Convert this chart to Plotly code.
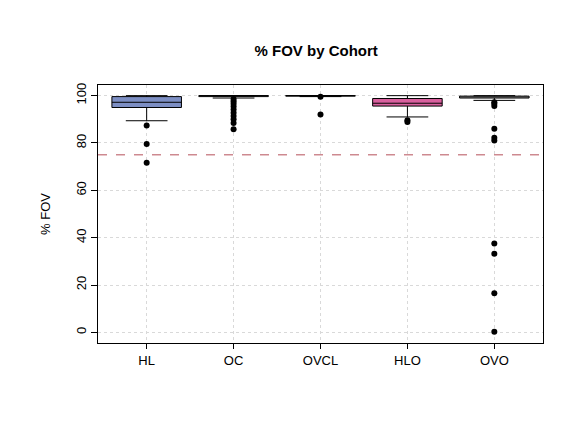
import plotly.graph_objects as go

cohorts = ["HL", "OC", "OVCL", "HLO", "OVO"]
q1 = [95.0, 99.6, 99.8, 95.6, 99.0]
median = [97.2, 100.0, 100.0, 96.8, 99.5]
q3 = [99.6, 100.0, 100.0, 98.8, 99.8]
lower = [89.4, 99.0, 99.6, 91.0, 98.0]
upper = [100.0, 100.0, 100.0, 100.0, 100.0]
colors = ["#7d8fc4", "white", "white", "#d9609e", "white"]
outliers = {
    "HL": [87.4, 79.6, 71.6],
    "OC": [98.6, 97.6, 96.6, 95.4, 94.2, 92.8, 91.4, 90.0, 88.4, 85.8],
    "OVCL": [99.5, 92.0],
    "HLO": [89.6, 88.9],
    "OVO": [97.2, 96.6, 95.6, 86.0, 82.2, 81.0, 37.5, 33.2, 16.5, 0.3],
}
ref_line = 75

fig = go.Figure()
for i, c in enumerate(cohorts):
    fig.add_trace(go.Box(
        x=[c], q1=[q1[i]], median=[median[i]], q3=[q3[i]],
        lowerfence=[lower[i]], upperfence=[upper[i]],
        fillcolor=colors[i], line=dict(color="black", width=1),
        width=0.8, whiskerwidth=0.6, boxpoints=False, showlegend=False))
    fig.add_trace(go.Scatter(
        x=[c] * len(outliers[c]), y=outliers[c], mode="markers",
        marker=dict(color="black", size=6), showlegend=False))

fig.add_hline(y=ref_line, line=dict(color="#b5505a", width=1, dash="dash"))

grid = dict(showgrid=True, gridcolor="#d9d9d9", griddash="dot", gridwidth=1)
fig.update_xaxes(**grid, showline=True, mirror=True, linecolor="black",
                 ticks="outside", tickcolor="black", range=[-0.56, 4.56],
                 automargin=False, tickfont=dict(size=13, color="black"))
fig.update_yaxes(**grid, showline=True, mirror=True, linecolor="black",
                 ticks="outside", tickcolor="black", range=[-4.5, 104.5],
                 tickvals=[0, 20, 40, 60, 80, 100], tickangle=-90, zeroline=False,
                 automargin=False, ticklen=6,
                 title=dict(text="% FOV", font=dict(size=13, color="black"), standoff=20),
                 tickfont=dict(size=13, color="black"))
fig.update_layout(
    width=576, height=432, plot_bgcolor="white", paper_bgcolor="white",
    font=dict(family="Liberation Sans, Arial", color="black"),
    title=dict(text="<b>% FOV by Cohort</b>", x=0.535, y=0.90, yanchor="middle",
               xanchor="center", font=dict(size=15)),
    margin=dict(l=90, r=41, t=77, b=97),
)
fig.write_html("out.html")
